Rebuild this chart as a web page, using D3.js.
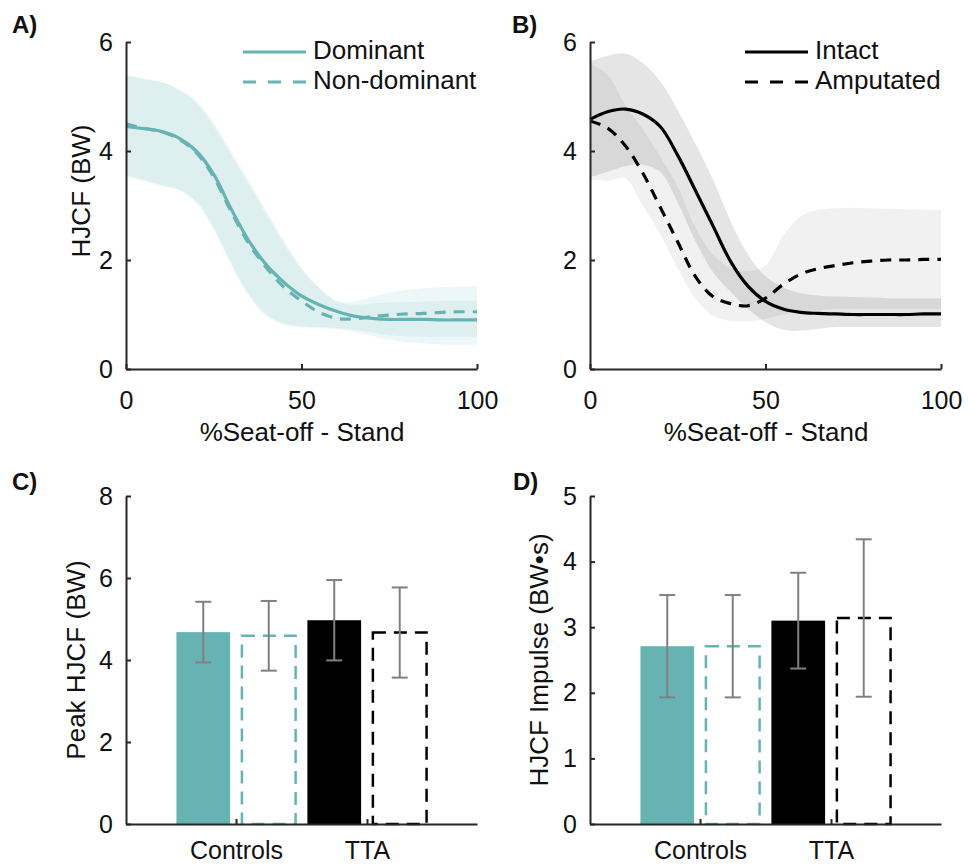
<!DOCTYPE html>
<html>
<head>
<meta charset="utf-8">
<title>HJCF sit-to-stand</title>
<style>
  body { margin: 0; background: #fff; }
  svg text { font-family: "Liberation Sans", Arial, sans-serif; fill: #111; }
  .axis path, .axis line { stroke: #262626; stroke-width: 2; }
  .axis text { font-size: 25px; }
  .label { font-size: 26px; }
  .panel { font-size: 24px; font-weight: bold; }
</style>
</head>
<body>
<script src="https://cdn.jsdelivr.net/npm/d3@7"></script>
<script>
// % of seat-off to stand, every 5 %
var pct = d3.range(0, 101, 5);

// A) controls
var domMean  = [4.45,4.41,4.36,4.24,4.00,3.57,2.93,2.35,1.91,1.59,1.34,1.18,1.06,0.97,0.93,0.91,0.91,0.91,0.90,0.90,0.90];
var domUpper = [5.39,5.32,5.26,5.12,4.88,4.45,3.92,3.38,2.83,2.30,1.83,1.48,1.25,1.18,1.20,1.22,1.23,1.24,1.25,1.25,1.25];
var domLower = [3.53,3.45,3.36,3.28,3.05,2.55,1.90,1.33,0.97,0.81,0.76,0.75,0.73,0.68,0.61,0.53,0.49,0.47,0.45,0.44,0.44];
var nonMean  = [4.50,4.42,4.36,4.22,3.97,3.52,2.88,2.30,1.86,1.50,1.25,1.04,0.93,0.92,0.96,0.99,1.01,1.02,1.04,1.05,1.05];
var nonUpper = [5.40,5.33,5.27,5.14,4.92,4.52,4.00,3.46,2.90,2.36,1.86,1.50,1.24,1.24,1.32,1.40,1.45,1.48,1.50,1.51,1.52];
var nonLower = [3.56,3.47,3.38,3.30,3.08,2.60,1.95,1.38,1.00,0.84,0.78,0.77,0.75,0.72,0.67,0.62,0.60,0.59,0.59,0.59,0.59];

// B) TTA
var intMean  = [4.58,4.72,4.77,4.68,4.45,3.92,3.28,2.63,1.98,1.52,1.24,1.10,1.04,1.02,1.01,1.00,1.00,1.00,1.00,1.01,1.01];
var intUpper = [5.64,5.75,5.79,5.62,5.28,4.75,4.14,3.48,2.72,2.10,1.70,1.50,1.39,1.35,1.33,1.32,1.31,1.30,1.30,1.30,1.30];
var intLower = [3.52,3.62,3.72,3.75,3.62,3.05,2.35,1.78,1.42,1.10,0.86,0.72,0.70,0.74,0.77,0.77,0.77,0.77,0.77,0.77,0.77];
var ampMean  = [4.55,4.42,4.10,3.60,2.97,2.33,1.70,1.33,1.20,1.16,1.30,1.55,1.74,1.84,1.90,1.95,1.98,2.00,2.00,2.01,2.01];
var ampUpper = [5.60,5.40,4.85,4.40,3.90,3.35,2.60,2.10,1.85,1.80,1.90,2.45,2.80,2.92,2.95,2.96,2.95,2.94,2.93,2.92,2.92];
var ampLower = [3.48,3.45,3.50,3.00,2.47,1.85,1.30,0.98,0.88,0.87,0.92,1.00,1.05,1.08,1.10,1.10,1.10,1.10,1.10,1.10,1.10];

// C) and D) bars: Controls dom / non-dom, TTA intact / amputated
var groups = ["Controls", "TTA"];
var barGroup = [1, 1, 2, 2];
var peakMean = [4.68, 4.59, 4.97, 4.67];
var peakSD   = [0.74, 0.85, 0.98, 1.10];
var impMean  = [2.71, 2.71, 3.10, 3.14];
var impSD    = [0.78, 0.78, 0.73, 1.20];

var teal = "#67b3b3";

var svg = d3.select("body").append("svg")
    .attr("width", 969)
    .attr("height", 865);

function axes(g, x, y, xTicks, xFmt, yTicks, xPad) {
  var ax = g.append("g").attr("class", "axis")
      .attr("transform", "translate(0," + y.range()[0] + ")")
      .call(d3.axisBottom(x).tickValues(xTicks).tickFormat(xFmt)
        .tickSizeInner(-5).tickSizeOuter(0).tickPadding(xPad));
  var ay = g.append("g").attr("class", "axis")
      .attr("transform", "translate(" + x.range()[0] + ",0)")
      .call(d3.axisLeft(y).tickValues(yTicks).tickFormat(d3.format("d"))
        .tickSizeInner(-5).tickSizeOuter(0).tickPadding(13));
  [ax, ay].forEach(function(a) {
    a.attr("font-size", null).attr("font-family", null);
  });
}

function linePanel(x0, series, legend, legX) {
  var x = d3.scaleLinear().domain([0, 100]).range([x0, x0 + 351]);
  var y = d3.scaleLinear().domain([0, 6]).range([369, 42]);
  var g = svg.append("g");
  var curve = d3.curveCatmullRom.alpha(0.5);

  var area = function(lo, hi) {
    return d3.area().curve(curve)
      .x(function(d, i) { return x(pct[i]); })
      .y0(function(d, i) { return y(lo[i]); })
      .y1(function(d, i) { return y(hi[i]); })(pct);
  };
  var line = function(m) {
    return d3.line().curve(curve)
      .x(function(d, i) { return x(pct[i]); })
      .y(function(d, i) { return y(m[i]); })(pct);
  };

  series.forEach(function(s) {
    g.append("path").attr("d", area(s.lo, s.hi))
      .attr("fill", s.band).attr("fill-opacity", s.alpha);
  });
  series.forEach(function(s) {
    g.append("path").attr("d", line(s.mean))
      .attr("fill", "none").attr("stroke", s.color)
      .attr("stroke-width", 3.2)
      .attr("stroke-dasharray", s.dash ? "11,8" : null);
  });

  axes(g, x, y, [0, 50, 100], d3.format("d"), [0, 2, 4, 6], 22);

  g.append("text").attr("class", "label")
    .attr("x", x0 + 176).attr("y", 441)
    .attr("text-anchor", "middle")
    .text("%Seat-off - Stand");

  series.forEach(function(s, i) {
    var ly = 52 + i * 30;
    g.append("line")
      .attr("x1", legX).attr("x2", legX + 63)
      .attr("y1", ly).attr("y2", ly)
      .attr("stroke", s.color).attr("stroke-width", 3.2)
      .attr("stroke-dasharray", s.dash ? "13,12" : null);
    g.append("text").attr("class", "label")
      .attr("x", legX + 70).attr("y", ly + 7)
      .text(legend[i]);
  });
  return g;
}

var gA = linePanel(126, [
  { mean: domMean, lo: domLower, hi: domUpper, color: teal, band: teal, alpha: 0.11, dash: false },
  { mean: nonMean, lo: nonLower, hi: nonUpper, color: teal, band: teal, alpha: 0.11, dash: true }
], ["Dominant", "Non-dominant"], 243);

linePanel(590, [
  { mean: intMean, lo: intLower, hi: intUpper, color: "#000", band: "#000", alpha: 0.10, dash: false },
  { mean: ampMean, lo: ampLower, hi: ampUpper, color: "#000", band: "#000", alpha: 0.055, dash: true }
], ["Intact", "Amputated"], 745);

gA.append("text").attr("class", "label")
  .attr("transform", "translate(90,191) rotate(-90)")
  .attr("text-anchor", "middle")
  .text("HJCF (BW)");

var barStyle = [
  { fill: teal, stroke: "none", dash: null },
  { fill: "#fff", stroke: teal, dash: "13,8" },
  { fill: "#000", stroke: "none", dash: null },
  { fill: "#fff", stroke: "#000", dash: "13,8" }
];
var barOffset = [-0.25, 0.25, -0.25, 0.25];

function barPanel(x0, means, sds, yMax, ylabel, labelX) {
  var x = d3.scaleLinear().domain([0.16, 2.84]).range([x0, x0 + 351]);
  var y = d3.scaleLinear().domain([0, yMax]).range([824, 496]);
  var g = svg.append("g");
  var bw = x(0.41) - x(0);

  means.forEach(function(m, i) {
    var cx = x(barGroup[i] + barOffset[i]);
    var st = barStyle[i];
    g.append("rect")
      .attr("x", cx - bw / 2).attr("y", y(m))
      .attr("width", bw).attr("height", y(0) - y(m))
      .attr("fill", st.fill)
      .attr("stroke", st.stroke).attr("stroke-width", 2.5)
      .attr("stroke-dasharray", st.dash);
  });

  means.forEach(function(m, i) {
    var cx = x(barGroup[i] + barOffset[i]);
    var lo = y(m - sds[i]), hi = y(m + sds[i]);
    var eb = g.append("g").attr("stroke", "#808080").attr("stroke-width", 2);
    eb.append("line").attr("x1", cx).attr("x2", cx).attr("y1", lo).attr("y2", hi);
    eb.append("line").attr("x1", cx - 8).attr("x2", cx + 8).attr("y1", lo).attr("y2", lo);
    eb.append("line").attr("x1", cx - 8).attr("x2", cx + 8).attr("y1", hi).attr("y2", hi);
  });

  axes(g, x, y, [1, 2], function(d) { return groups[d - 1]; }, d3.range(0, yMax + 1, yMax > 5 ? 2 : 1), 17);

  g.append("text").attr("class", "label")
    .attr("transform", "translate(" + labelX + ",660) rotate(-90)")
    .attr("text-anchor", "middle")
    .text(ylabel);
}

barPanel(126, peakMean, peakSD, 8, "Peak HJCF (BW)", 85);
barPanel(590, impMean, impSD, 5, "HJCF Impulse (BW\u2022s)", 548);

[["A)", 12, 33], ["B)", 512, 33], ["C)", 12, 490], ["D)", 513, 490]].forEach(function(p) {
  svg.append("text").attr("class", "panel")
    .attr("x", p[1]).attr("y", p[2]).text(p[0]);
});
</script>
</body>
</html>
